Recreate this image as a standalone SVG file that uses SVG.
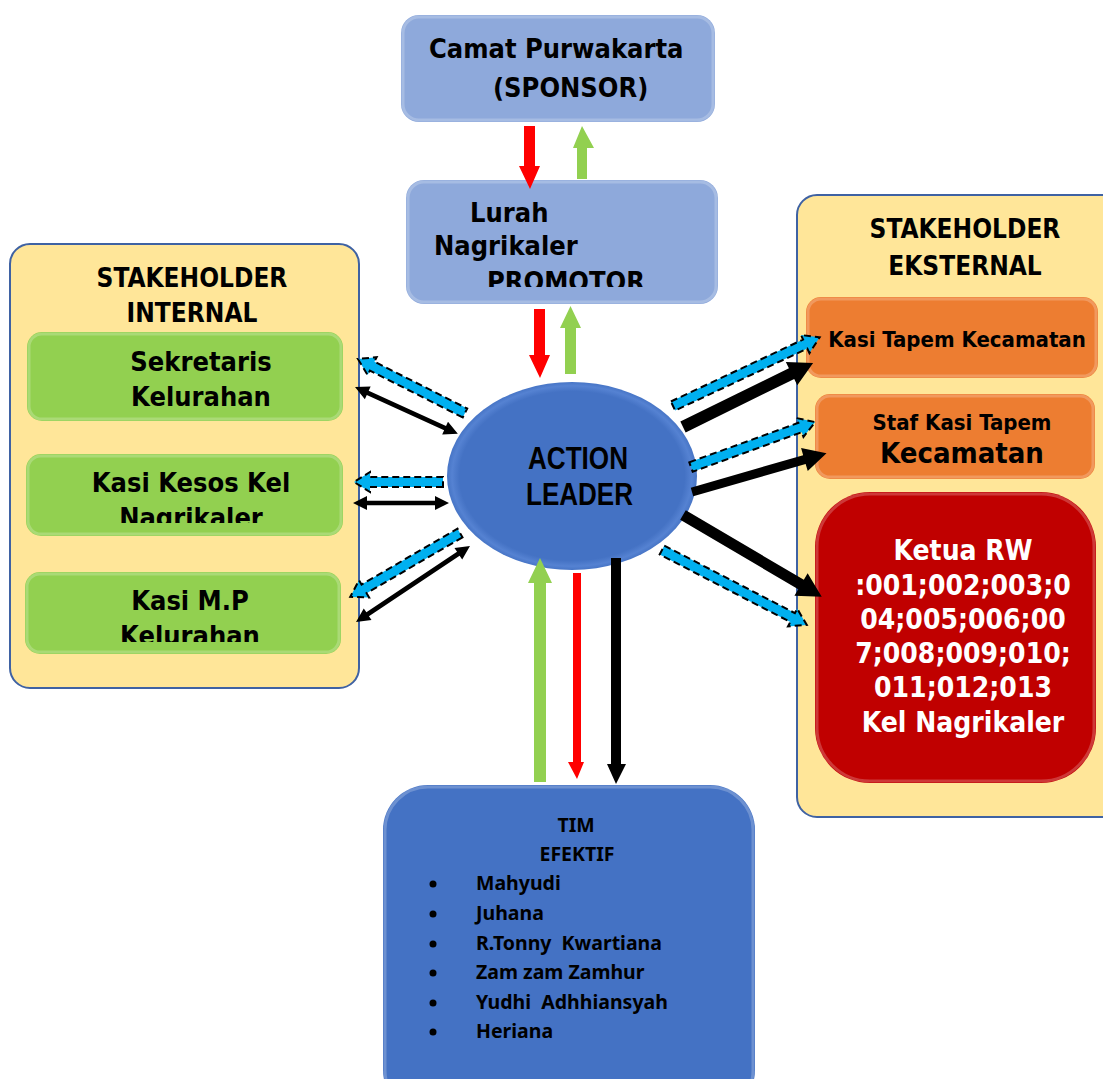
<svg xmlns="http://www.w3.org/2000/svg" width="1103" height="1079" viewBox="0 0 1103 1079">
<style>
.t{font-family:"DejaVu Sans Condensed","DejaVu Sans","Liberation Sans",sans-serif;font-weight:bold;fill:#000}
.w{fill:#fff}
.al{font-family:"Liberation Sans Narrow","Liberation Sans",Arial,sans-serif;font-weight:bold;font-size:31px;fill:#000}
.tim{font-family:"Noto Sans","Open Sans","Liberation Sans",sans-serif;font-weight:bold;font-size:19.5px;fill:#000;white-space:pre}
.cont{fill:#FFE699;stroke:#3F62A3;stroke-width:2}
.lb{fill:#8EA9DB}
.gr{fill:#92D050}
.or{fill:#ED7D31}
.rd{fill:#C00000}
.bl{fill:#4472C4}
.hl{fill:none;stroke:#fff;stroke-opacity:0.22;stroke-width:3}
.cy{fill:#00B0F0;stroke:#000;stroke-width:2;stroke-dasharray:7 4}
.bk{fill:#000}
</style>
<defs>
<clipPath id="clipLurah"><rect x="400" y="170" width="330" height="117"/></clipPath>
<clipPath id="clipKesos"><rect x="20" y="440" width="330" height="83"/></clipPath>
<clipPath id="clipMP"><rect x="20" y="560" width="330" height="82"/></clipPath>
<radialGradient id="elG" cx="0.5" cy="0.5" r="0.5">
<stop offset="0.9" stop-color="#4472C4"/>
<stop offset="0.96" stop-color="#5582D2"/>
<stop offset="1" stop-color="#4775C6"/>
</radialGradient>
</defs>

<g id="stakeholder-internal">
<rect class="cont" x="10" y="244" width="349" height="444" rx="20"/>
<text class="t" font-size="26" text-anchor="middle" x="192" y="287">STAKEHOLDER</text>
<text class="t" font-size="26" text-anchor="middle" x="192" y="322">INTERNAL</text>
</g>
<g id="sekretaris">
<rect class="gr" x="27" y="332" width="316" height="89" rx="15"/>
<rect class="hl" x="29" y="334" width="312" height="85" rx="13"/>
<text class="t" font-size="27" text-anchor="middle" x="201" y="371">Sekretaris</text>
<text class="t" font-size="27" text-anchor="middle" x="201" y="406">Kelurahan</text>
</g>
<g id="kasi-kesos">
<rect class="gr" x="26" y="454" width="317" height="82" rx="15"/>
<rect class="hl" x="28" y="456" width="313" height="78" rx="13"/>
<g clip-path="url(#clipKesos)">
<text class="t" font-size="27" text-anchor="middle" x="191" y="492">Kasi Kesos Kel</text>
<text class="t" font-size="27" text-anchor="middle" x="191" y="527">Nagrikaler</text>
</g>
</g>
<g id="kasi-mp">
<rect class="gr" x="25" y="572" width="316" height="82" rx="15"/>
<rect class="hl" x="27" y="574" width="312" height="78" rx="13"/>
<g clip-path="url(#clipMP)">
<text class="t" font-size="27" text-anchor="middle" x="190" y="610">Kasi M.P</text>
<text class="t" font-size="27" text-anchor="middle" x="190" y="645">Kelurahan</text>
</g>
</g>

<g id="stakeholder-eksternal">
<rect class="cont" x="797" y="195" width="330" height="622" rx="20"/>
<text class="t" font-size="26" text-anchor="middle" x="965" y="238">STAKEHOLDER</text>
<text class="t" font-size="26" text-anchor="middle" x="965" y="275">EKSTERNAL</text>
</g>
<g id="kasi-tapem">
<rect class="or" x="806" y="297" width="292" height="81" rx="15"/>
<rect class="hl" x="808" y="299" width="288" height="77" rx="13"/>
<text class="t" font-size="22" text-anchor="middle" x="957" y="347">Kasi Tapem Kecamatan</text>
</g>
<g id="staf-kasi-tapem">
<rect class="or" x="815" y="394" width="280" height="85" rx="15"/>
<rect class="hl" x="817" y="396" width="276" height="81" rx="13"/>
<text class="t" font-size="22" text-anchor="middle" x="962" y="430">Staf Kasi Tapem</text>
<text class="t" font-size="29" text-anchor="middle" x="962" y="463">Kecamatan</text>
</g>
<g id="ketua-rw">
<rect class="rd" x="815" y="492" width="281" height="291" rx="55"/>
<rect class="hl" x="817" y="494" width="277" height="287" rx="53"/>
<text class="t w" font-size="28" text-anchor="middle" x="963" y="560">Ketua RW</text>
<text class="t w" font-size="28" text-anchor="middle" x="963" y="595">:001;002;003;0</text>
<text class="t w" font-size="28" text-anchor="middle" x="963" y="629">04;005;006;00</text>
<text class="t w" font-size="28" text-anchor="middle" x="963" y="663">7;008;009;010;</text>
<text class="t w" font-size="28" text-anchor="middle" x="963" y="697">011;012;013</text>
<text class="t w" font-size="28" text-anchor="middle" x="963" y="732">Kel Nagrikaler</text>
</g>

<g id="camat">
<rect class="lb" x="401" y="15" width="314" height="107" rx="18"/>
<rect class="hl" x="403" y="17" width="310" height="103" rx="16"/>
<text class="t" font-size="27" x="429" y="58">Camat Purwakarta</text>
<text class="t" font-size="27" x="493" y="97">(SPONSOR)</text>
</g>
<g id="lurah">
<rect class="lb" x="406" y="180" width="312" height="124" rx="18"/>
<rect class="hl" x="408" y="182" width="308" height="120" rx="16"/>
<g clip-path="url(#clipLurah)">
<text class="t" font-size="27" x="470" y="222">Lurah</text>
<text class="t" font-size="27" x="434" y="255">Nagrikaler</text>
<text class="t" font-size="27" x="487" y="291">PROMOTOR</text>
</g>
</g>

<g id="action-leader">
<ellipse cx="572" cy="476" rx="125" ry="94" fill="url(#elG)"/>
<text class="al" x="528" y="469" textLength="100" lengthAdjust="spacingAndGlyphs">ACTION</text>
<text class="al" x="526" y="505" textLength="107" lengthAdjust="spacingAndGlyphs">LEADER</text>
</g>

<g id="tim-efektif">
<rect class="bl" x="383" y="785" width="372" height="330" rx="45"/>
<rect class="hl" x="385" y="787" width="368" height="326" rx="43"/>
<text class="tim" text-anchor="middle" x="576" y="832">TIM</text>
<text class="tim" text-anchor="middle" x="577" y="861">EFEKTIF</text>
<g fill="#000">
<circle cx="433" cy="884" r="3.5"/>
<circle cx="433" cy="914" r="3.5"/>
<circle cx="433" cy="944" r="3.5"/>
<circle cx="433" cy="973" r="3.5"/>
<circle cx="433" cy="1003" r="3.5"/>
<circle cx="433" cy="1032" r="3.5"/>
</g>
<text class="tim" x="476" y="890">Mahyudi</text>
<text class="tim" x="476" y="920">Juhana</text>
<text class="tim" x="476" y="950">R.Tonny  Kwartiana</text>
<text class="tim" x="476" y="979">Zam zam Zamhur</text>
<text class="tim" x="476" y="1009">Yudhi  Adhhiansyah</text>
<text class="tim" x="476" y="1038">Heriana</text>
</g>

<g id="connectors">
<polygon fill="#FF0000" points="524,126 535,126 535,166 540,166 530,189 519,166 524,166"/>
<polygon fill="#92D050" points="577,179 587,179 587,148 594,148 582,126 573,148 577,148"/>
<polygon fill="#FF0000" points="534,309 545,309 545,355 550,355 540,378 529,355 534,355"/>
<polygon fill="#92D050" points="565,374 576,374 576,328 581,328 570.5,306 560,328 565,328"/>
<polygon fill="#92D050" points="534,782 546,782 546,583 552,583 540,558 528,583 534,583"/>
<polygon fill="#FF0000" points="573,573 581,573 581,762 584,762 577,779 568,762 573,762"/>
<polygon class="bk" points="611,558 621,558 621,764 626,764 616,784 607,764 611,764"/>

<path class="bk" transform="translate(355,387) rotate(24.5)" d="M0,0 L14,-7 L14,-2.3 L99,-2.3 L99,-7 L113,0 L99,7 L99,2.3 L14,2.3 L14,7 Z"/>
<path class="bk" transform="translate(353,503)" d="M0,0 L14,-7 L14,-2.3 L82,-2.3 L82,-7 L96,0 L82,7 L82,2.3 L14,2.3 L14,7 Z"/>
<path class="bk" transform="translate(356,622) rotate(-33.7)" d="M0,0 L14,-7 L14,-2.3 L123,-2.3 L123,-7 L137,0 L123,7 L123,2.3 L14,2.3 L14,7 Z"/>

<path class="cy" transform="translate(465,413) rotate(206.8)" d="M0,-5 H104 V-10 L120,0 L104,10 V5 H0 Z"/>
<path class="cy" transform="translate(443,482) rotate(180)" d="M0,-5 H73 V-10 L89,0 L73,10 V5 H0 Z"/>
<path class="cy" transform="translate(460,533) rotate(149.8)" d="M0,-5 H111 V-10 L127,0 L111,10 V5 H0 Z"/>

<path class="cy" transform="translate(673,406) rotate(-25.1)" d="M0,-5 H146 V-10 L162,0 L146,10 V5 H0 Z"/>
<path class="cy" transform="translate(691,467) rotate(-19.9)" d="M0,-5 H116 V-10 L132,0 L116,10 V5 H0 Z"/>
<path class="cy" transform="translate(662,550) rotate(27.35)" d="M0,-5 H147 V-10 L163,0 L147,10 V5 H0 Z"/>

<path class="bk" transform="translate(683,427) rotate(-26.2)" d="M0,-6 H121 V-13 L145,0 L121,13 V6 H0 Z"/>
<path class="bk" transform="translate(692,492) rotate(-16.1)" d="M0,-4.5 H117 V-12 L140,0 L117,12 V4.5 H0 Z"/>
<path class="bk" transform="translate(683,515) rotate(30.5)" d="M0,-5.5 H137 V-13 L161,0 L137,13 V5.5 H0 Z"/>
</g>
</svg>
